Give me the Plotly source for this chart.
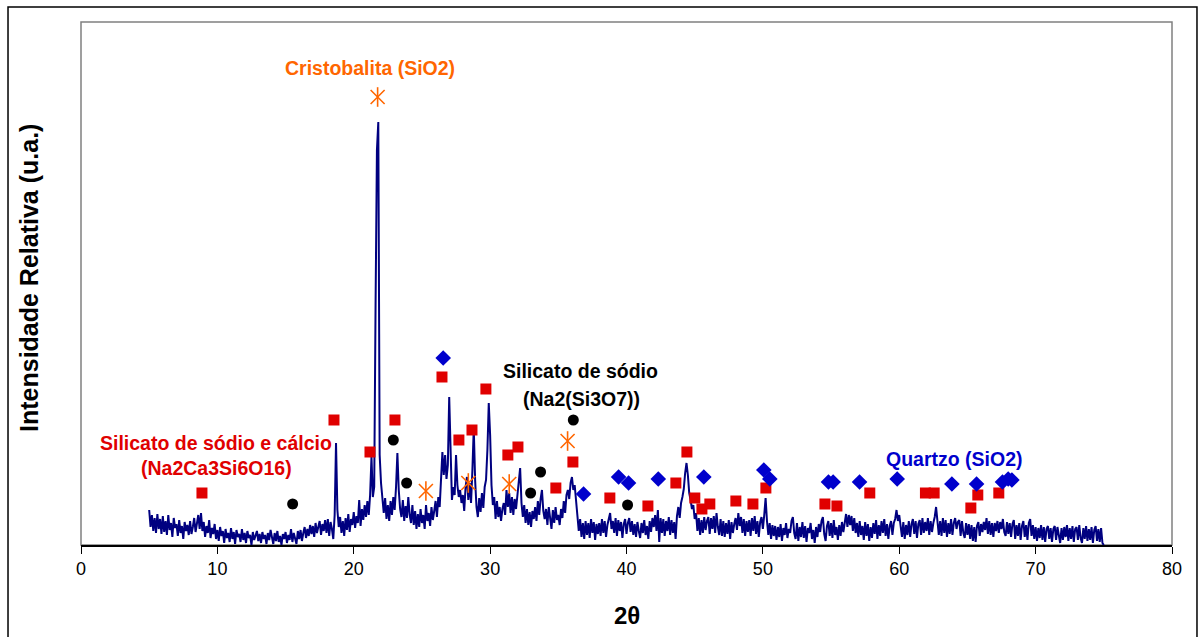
import plotly.graph_objects as go

# Diffractogram: one row per degree of 2-theta, ten readings per row (step 0.1)
two_theta_start = 5.0
two_theta_step = 0.1
intensity_rows = [
    [35, 18, 30, 14, 27, 12, 31, 16, 26, 11],            # 5
    [29, 13, 24, 10, 30, 15, 22, 8, 27, 17],             # 6
    [21, 9, 25, 12, 19, 6, 23, 14, 20, 10],              # 7
    [24, 11, 18, 27, 13, 22, 30, 16, 32, 14],            # 8
    [23, 8, 19, 12, 25, 7, 17, 11, 21, 6],               # 9
    [15, 4, 18, 9, 14, 2, 16, 7, 12, 3],                 # 10
    [17, 6, 13, 1, 15, 8, 11, 3, 16, 5],                 # 11
    [12, 2, 14, 7, 10, 0, 13, 5, 9, 14],                 # 12
    [4, 11, 2, 13, 6, 10, 1, 12, 5, 15],                 # 13
    [8, 1, 12, 4, 14, 3, 9, 0, 11, 6],                   # 14
    [13, 2, 10, 5, 16, 3, 12, 7, 1, 14],                 # 15
    [6, 15, 4, 12, 18, 7, 16, 9, 20, 11],                # 16
    [19, 8, 22, 12, 17, 24, 10, 21, 14, 25],             # 17
    [12, 26, 9, 23, 16, 6, 30, 102, 35, 18],             # 18
    [28, 12, 24, 9, 27, 15, 31, 13, 26, 20],             # 19
    [33, 17, 29, 22, 45, 19, 36, 25, 40, 28],            # 20
    [44, 30, 50, 88, 48, 58, 240, 395, 423, 90],         # 21
    [62, 50, 32, 47, 26, 40, 24, 44, 30, 48],            # 22
    [35, 58, 92, 55, 36, 28, 45, 24, 39, 27],            # 23
    [48, 30, 22, 40, 20, 34, 16, 31, 18, 36],            # 24
    [22, 30, 16, 40, 24, 32, 19, 38, 25, 34],            # 25
    [44, 28, 48, 38, 64, 93, 70, 90, 66, 80],            # 26
    [148, 95, 45, 58, 50, 90, 60, 48, 55, 42],           # 27
    [50, 34, 58, 68, 45, 62, 42, 75, 117, 65],           # 28
    [38, 28, 47, 33, 52, 37, 58, 65, 95, 142],           # 29
    [110, 60, 40, 48, 26, 44, 28, 38, 24, 36],           # 30
    [42, 30, 55, 38, 52, 32, 48, 30, 46, 36],            # 31
    [52, 60, 77, 42, 28, 40, 22, 36, 20, 33],            # 32
    [18, 34, 26, 38, 24, 44, 30, 46, 55, 34],            # 33
    [26, 36, 20, 38, 24, 16, 35, 22, 38, 25],            # 34
    [30, 20, 36, 27, 44, 32, 50, 55, 46, 62],            # 35
    [68, 55, 60, 42, 24, 14, 26, 8, 22, 6],              # 36
    [24, 10, 22, 7, 26, 12, 23, 5, 21, 11],              # 37
    [22, 9, 26, 12, 24, 8, 20, 27, 32, 16],              # 38
    [24, 12, 27, 9, 25, 14, 23, 7, 21, 26],              # 39
    [11, 22, 27, 13, 24, 10, 21, 8, 23, 14],             # 40
    [7, 22, 12, 25, 10, 19, 6, 24, 13, 27],              # 41
    [18, 30, 14, 35, 3, 27, 12, 26, 9, 24],              # 42
    [14, 28, 10, 25, 12, 23, 6, 29, 38, 27],             # 43
    [42, 48, 56, 72, 82, 70, 52, 45, 36, 40],            # 44
    [26, 32, 14, 27, 10, 25, 12, 28, 15, 24],            # 45
    [28, 11, 27, 16, 29, 12, 32, 18, 10, 26],            # 46
    [9, 24, 8, 22, 11, 25, 6, 23, 12, 21],               # 47
    [27, 15, 32, 19, 28, 12, 26, 9, 24, 13],             # 48
    [25, 9, 27, 14, 29, 11, 24, 8, 23, 28],              # 49
    [16, 30, 47, 24, 10, 22, 6, 20, 9, 19],              # 50
    [5, 18, 8, 21, 4, 17, 10, 22, 7, 16],                # 51
    [12, 24, 28, 12, 6, 22, 4, 18, 8, 23],               # 52
    [7, 19, 3, 17, 12, 22, 6, 15, 2, 18],                # 53
    [8, 21, 13, 24, 28, 11, 4, 19, 24, 9],               # 54
    [22, 7, 25, 10, 18, 5, 20, 9, 23, 13],               # 55
    [24, 31, 18, 30, 20, 29, 14, 27, 12, 22],            # 56
    [8, 24, 10, 19, 5, 23, 9, 21, 4, 18],                # 57
    [7, 22, 11, 25, 6, 20, 9, 24, 12, 26],               # 58
    [9, 21, 6, 19, 24, 10, 22, 26, 35, 24],              # 59
    [30, 17, 8, 23, 6, 20, 10, 24, 8, 21],               # 60
    [26, 11, 24, 7, 21, 25, 10, 27, 12, 23],             # 61
    [14, 27, 10, 24, 13, 22, 28, 38, 20, 10],            # 62
    [24, 9, 27, 12, 25, 8, 22, 11, 26, 10],              # 63
    [22, 27, 16, 23, 25, 9, 24, 12, 7, 22],              # 64
    [10, 21, 6, 20, 4, 18, 3, 19, 23, 9],                # 65
    [21, 13, 23, 15, 27, 11, 24, 10, 22, 8],             # 66
    [22, 14, 24, 12, 23, 16, 26, 13, 9, 23],             # 67
    [11, 22, 8, 21, 25, 6, 20, 9, 22, 5],                # 68
    [19, 24, 8, 20, 5, 22, 26, 9, 20, 6],                # 69
    [18, 4, 17, 7, 20, 5, 18, 3, 16, 19],                # 70
    [6, 17, 3, 16, 19, 5, 18, 8, 2, 17],                 # 71
    [5, 18, 8, 20, 4, 17, 6, 19, 3, 16],                 # 72
    [18, 5, 20, 7, 2, 17, 6, 19, 4, 16],                 # 73
    [5, 18, 2, 15, 19, 4, 16, 3, 17, 2],                 # 74
]
intensity_end = [0]                                       # 75.0

intensity = [v for row in intensity_rows for v in row] + intensity_end
two_theta = [round(two_theta_start + i * two_theta_step, 1) for i in range(len(intensity))]

# Phase identification markers (2-theta, marker height)
na2ca3si6o16_x = [8.87, 18.55, 21.19, 23.02, 26.47, 27.71, 28.67, 29.69, 31.30, 32.04,
                  34.82, 36.07, 38.78, 41.57, 43.62, 44.43, 45.01, 45.53, 46.11, 48.02,
                  49.27, 50.22, 54.55, 55.43, 57.84, 61.92, 62.56, 65.25, 65.76, 67.30]
na2ca3si6o16_y = [52, 125, 93, 125, 168, 105, 115, 156, 90, 98,
                  57, 83, 47, 39, 62, 93, 47, 36, 41, 44,
                  41, 57, 41, 39, 52, 52, 52, 37, 50, 52]

na2si3o7_x = [15.52, 22.90, 23.88, 32.97, 33.70, 36.10, 40.08]
na2si3o7_y = [41, 105, 62, 52, 73, 125, 40]

quartzo_x = [26.56, 36.85, 39.42, 40.15, 42.33, 45.67, 50.07, 50.51, 54.81, 55.15,
             57.09, 59.85, 63.86, 65.67, 67.57, 67.99, 68.26]
quartzo_y = [187, 51, 68, 62, 66, 68, 75, 66, 63, 63,
             63, 66, 61, 61, 63, 66, 65]

cristobalita_x = [21.75, 25.29, 28.40, 31.40, 35.68]
cristobalita_y = [448, 54, 62, 61, 104]

x_ticks = [0, 10, 20, 30, 40, 50, 60, 70, 80]

FONT = "Liberation Sans, Arial, sans-serif"
NAVY = "#000080"
RED = "#E00000"
BLUE = "#0000CC"
ORANGE = "#FF6600"

fig = go.Figure()

fig.add_trace(go.Scatter(
    x=two_theta, y=intensity, mode="lines",
    line=dict(color=NAVY, width=2), name="DRX",
))

fig.add_trace(go.Scatter(
    x=na2ca3si6o16_x, y=na2ca3si6o16_y, mode="markers", name="Na2Ca3Si6O16",
    marker=dict(symbol="square", size=11, color=RED, line=dict(width=0)),
))
fig.add_trace(go.Scatter(
    x=na2si3o7_x, y=na2si3o7_y, mode="markers", name="Na2(Si3O7)",
    marker=dict(symbol="circle", size=11, color="black", line=dict(width=0)),
))
fig.add_trace(go.Scatter(
    x=quartzo_x, y=quartzo_y, mode="markers", name="Quartzo",
    marker=dict(symbol="diamond", size=12, color=BLUE, line=dict(width=0)),
))
# star marker: an X crossed by a vertical stroke
for sym in ("x-thin-open", "line-ns-open"):
    fig.add_trace(go.Scatter(
        x=cristobalita_x, y=cristobalita_y, mode="markers", name="Cristobalita",
        marker=dict(symbol=sym, size=14, color=ORANGE,
                    line=dict(width=1.6, color=ORANGE)),
    ))

labels = [
    ("Cristobalita (SiO2)", 21.19, 477, ORANGE),
    ("Silicato de sódio e cálcio", 9.93, 102, RED),
    ("(Na2Ca3Si6O16)", 9.95, 77, RED),
    ("Silicato de sódio", 36.62, 174, "black"),
    ("(Na2(Si3O7))", 36.72, 146, "black"),
    ("Quartzo (SiO2)", 64.04, 86, BLUE),
]
annotations = [
    dict(x=x, y=y, xref="x", yref="y", text=f"<b>{t}</b>", showarrow=False,
         xanchor="center", yanchor="middle",
         font=dict(family=FONT, size=19.5, color=c))
    for t, x, y, c in labels
]
annotations += [
    dict(x=-0.047, y=0.51, xref="paper", yref="paper",
         text="<b>Intensidade Relativa (u.a.)</b>", showarrow=False, textangle=-90,
         xanchor="center", yanchor="middle",
         font=dict(family=FONT, size=25, color="black")),
    dict(x=0.5, y=-0.135, xref="paper", yref="paper",
         text="<b>2θ</b>", showarrow=False,
         xanchor="center", yanchor="middle",
         font=dict(family=FONT, size=24, color="black")),
]

shapes = [
    # plot-area frame
    dict(type="rect", xref="paper", yref="paper", x0=0, y0=0, x1=1, y1=1,
         line=dict(color="#808080", width=1.5), layer="below"),
    # outer chart border
    dict(type="rect", xref="paper", yref="paper",
         x0=-0.0669, y0=-0.19, x1=1.0229, y1=1.0287,
         line=dict(color="black", width=1.5), layer="below"),
]

fig.update_layout(
    width=1200, height=637,
    margin=dict(l=81, r=28, t=22, b=92),
    paper_bgcolor="white", plot_bgcolor="white",
    showlegend=False,
    annotations=annotations,
    shapes=shapes,
    xaxis=dict(
        range=[0, 80], tickvals=x_ticks, ticktext=[str(t) for t in x_ticks],
        showline=True, linecolor="black", linewidth=1.5,
        ticks="outside", ticklen=7, tickwidth=1.2, tickcolor="black",
        showgrid=False, zeroline=False,
        tickfont=dict(family=FONT, size=18, color="black"),
    ),
    yaxis=dict(
        range=[0, 523], showticklabels=False, ticks="",
        showgrid=False, zeroline=False, showline=False,
    ),
)

fig.write_html("out.html")
